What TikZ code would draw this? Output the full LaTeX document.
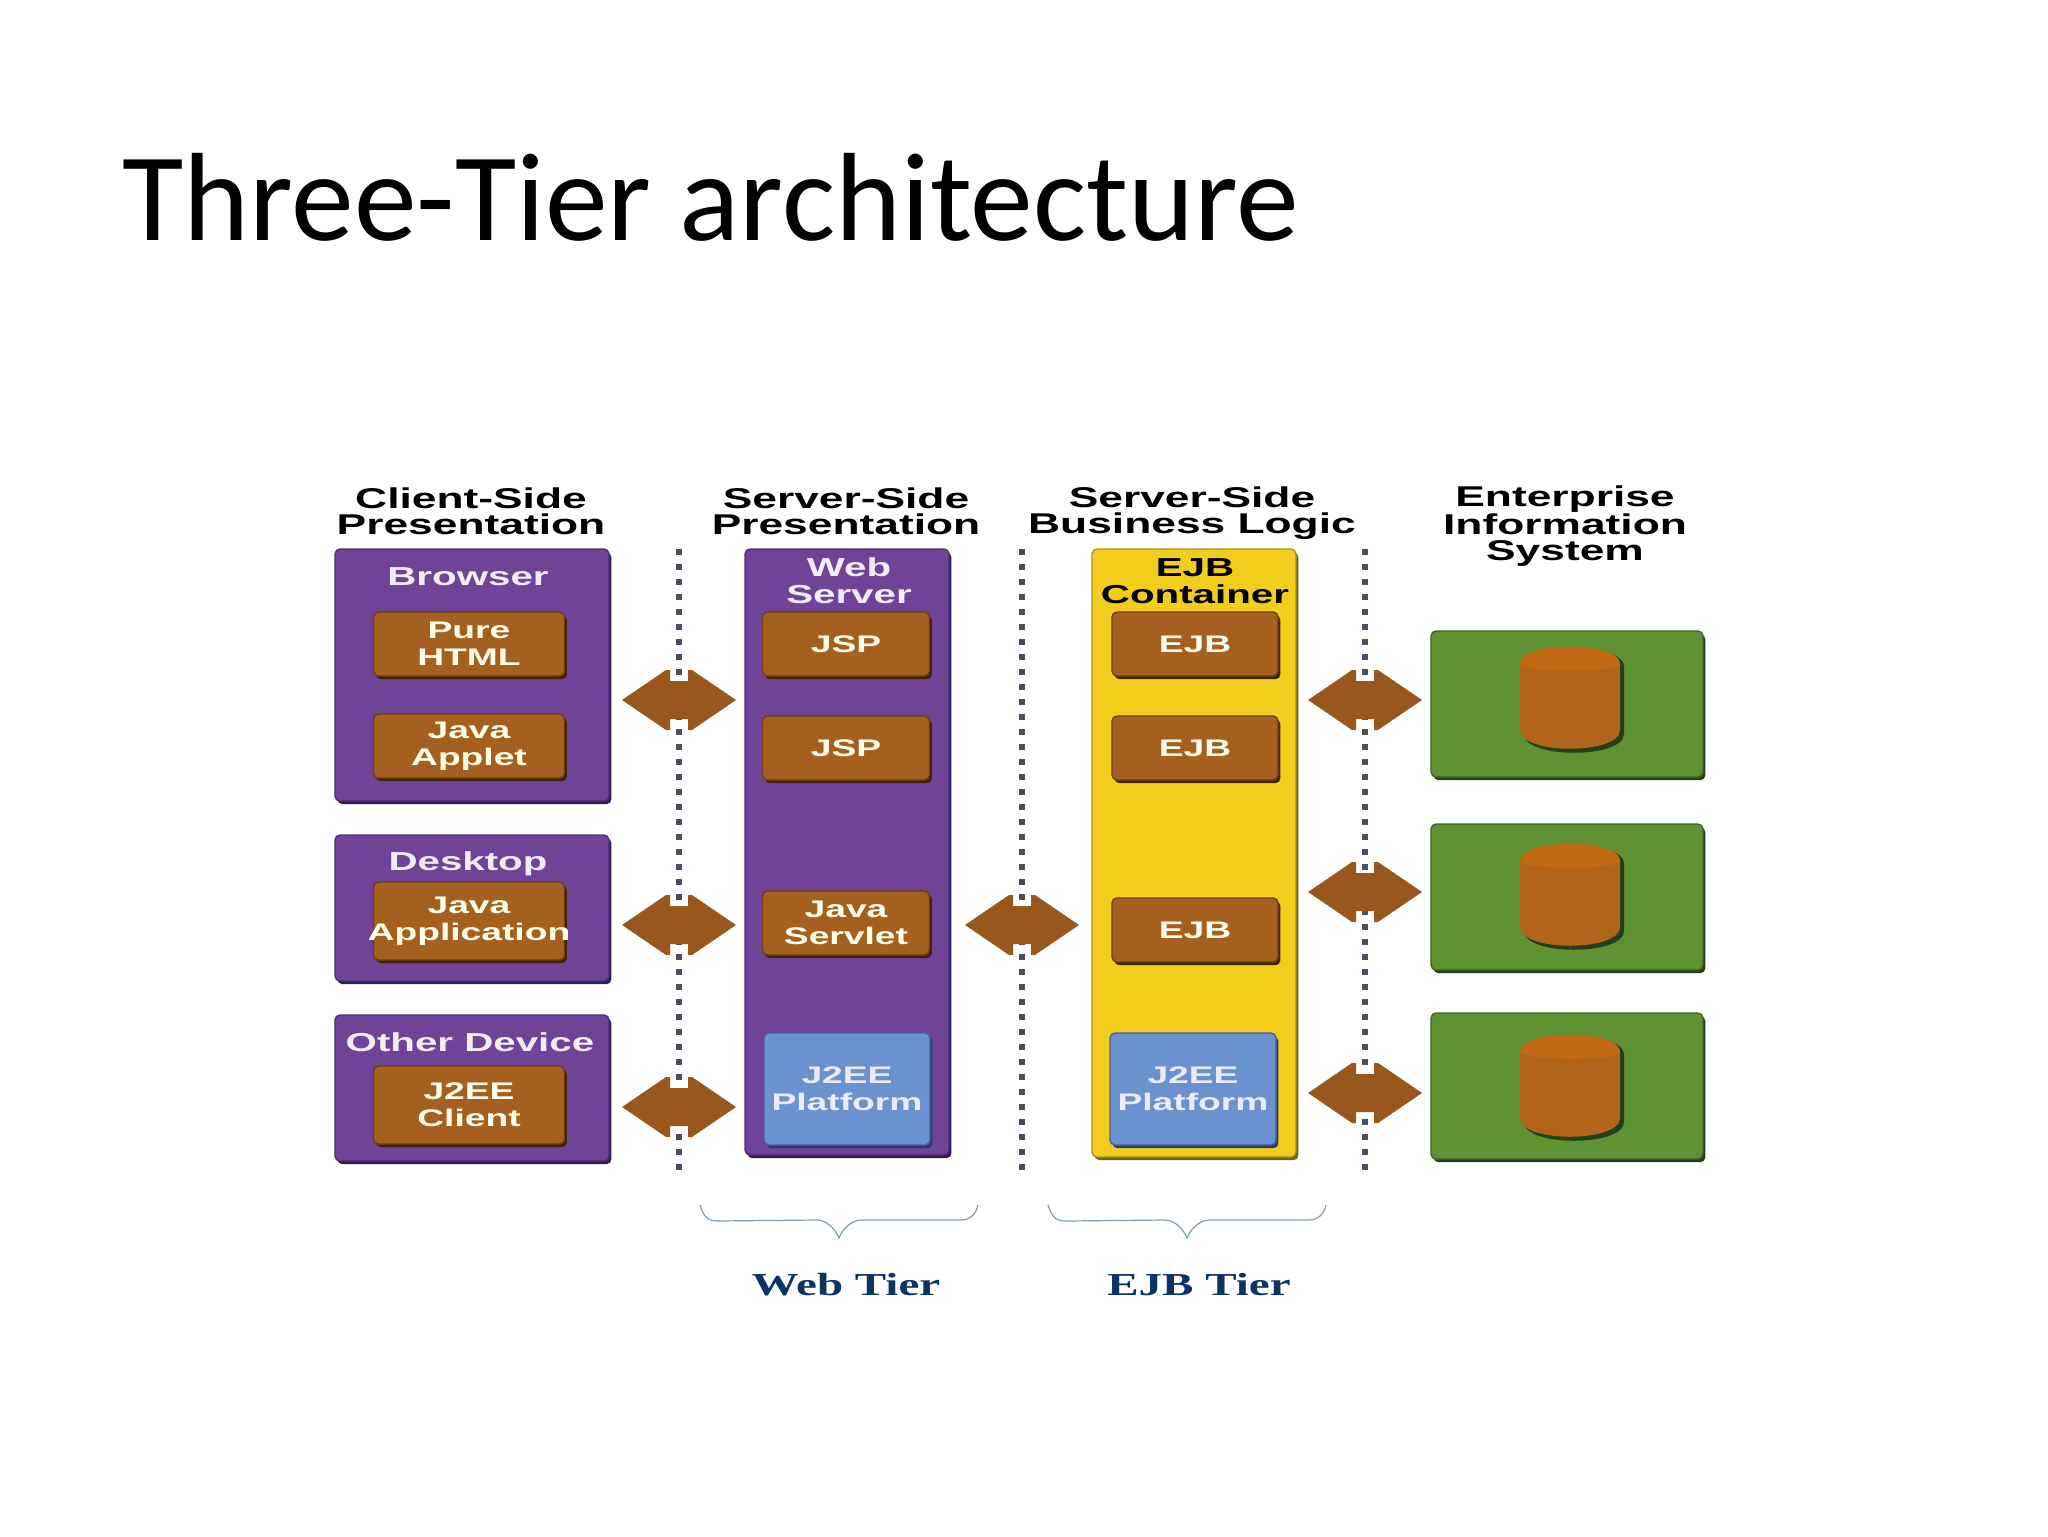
\documentclass[tikz,border=0pt]{standalone}
\usepackage{fontspec}
\usepackage{xcolor}
\usetikzlibrary{shadows}
\setmainfont{Liberation Sans}
\newfontfamily\titlefont{Carlito}
\newfontfamily\headfont[FakeStretch=1.55]{Liberation Sans}
\newfontfamily\widefont[FakeStretch=1.55]{Liberation Sans}
\newfontfamily\wideserif[FakeStretch=1.47]{Liberation Serif}
\definecolor{tierpurple}{HTML}{6F4396}
\definecolor{tierpurpledark}{HTML}{2F1C55}
\definecolor{tierbrown}{HTML}{A55F1F}
\definecolor{tierbrowndark}{HTML}{3F230C}
\definecolor{tierblue}{HTML}{6A92CF}
\definecolor{tierbluedark}{HTML}{2C3A66}
\definecolor{tiergreen}{HTML}{5F9232}
\definecolor{tiergreendark}{HTML}{22401A}
\definecolor{tieryellow}{HTML}{F3CD1B}
\definecolor{tieryellowdark}{HTML}{6B6420}
\definecolor{tiernavy}{HTML}{0B3366}
\definecolor{tierdot}{HTML}{4C4C60}
\definecolor{tierbrace}{HTML}{7F9DB0}
\tikzset{
  bevelbox/.style 2 args={rectangle,rounded corners=2.5pt,fill=#1,draw=#2!55!#1,line width=0.7pt,
    general shadow={fill=#2,shadow xshift=1.2pt,shadow yshift=-1.6pt},inner sep=0pt,align=center},
  heading/.style={font=\headfont\bfseries\fontsize{14.3}{13}\selectfont,align=center,inner sep=0pt,text=black},
  boxtitle/.style={font=\widefont\bfseries\fontsize{13}{13.5}\selectfont,align=center,inner sep=0pt},
  purplebox/.style={bevelbox={tierpurple}{tierpurpledark}},
  yellowbox/.style={bevelbox={tieryellow}{tieryellowdark}},
  greenbox/.style={bevelbox={tiergreen}{tiergreendark},minimum width=136pt,minimum height=73pt},
  brownbtn/.style={bevelbox={tierbrown}{tierbrowndark},text=white!92!yellow,
    font=\widefont\bfseries\fontsize{12}{13.5}\selectfont},
  clientbtn/.style={brownbtn,minimum width=95.5pt,minimum height=32pt},
  webbtn/.style={brownbtn,minimum width=83.5pt,minimum height=32pt},
  ejbbtn/.style={brownbtn,minimum width=83pt,minimum height=32pt},
  platform/.style={bevelbox={tierblue}{tierbluedark},text=white!92!blue,minimum width=83pt,minimum height=56pt,
    font=\widefont\bfseries\fontsize{12}{13.5}\selectfont},
  tierdots/.style={color=tierdot,line width=2.8pt,dash pattern=on 2.8pt off 4.7pt},
  tierarrow/.pic={
    \fill[tierbrown!92!black] (-57,0) -- (-13,-30) -- (-9,-30) -- (-9,-19) -- (9,-19) -- (9,-30) -- (13,-30) -- (57,0)
      -- (13,30) -- (9,30) -- (9,19) -- (-9,19) -- (-9,30) -- (-13,30) -- cycle;
  },
  tierbrace/.pic={
    \draw[color=tierbrace,line width=0.6pt] (-139,0) .. controls (-136,9) and (-133,16) .. (-122,16) -- (-22,15)
      .. controls (-12,15) and (-3,25) .. (0,33) .. controls (3,25) and (12,15) .. (22,15) -- (122,15)
      .. controls (131,15) and (137,9) .. (139,0);
  },
  datastore/.pic={
    \fill[tiergreendark] (-46,-33) .. controls (-46,-56) and (54,-56) .. (54,-33) -- (54,35)
      .. controls (54,60) and (-46,60) .. (-46,35) -- cycle;
    \fill[tierbrown!85!orange] (-50,-35) .. controls (-50,-58) and (50,-58) .. (50,-35) -- (50,31)
      .. controls (50,56) and (-50,56) .. (-50,31) -- cycle;
    \fill[tierbrown!68!orange] (-50,-35) .. controls (-50,-58) and (50,-58) .. (50,-35)
      .. controls (50,-26) and (-50,-26) .. (-50,-35) -- cycle;
  }
}
\begin{document}
\begin{tikzpicture}[x={0.5pt},y={-0.5pt}]
\useasboundingbox (0,0) rectangle (2048,1536);
\node[anchor=base west,inner sep=0pt,font=\titlefont\fontsize{62.8}{70}\selectfont] (title) at (122,240) {Three-Tier architecture};

% headings
\node[heading] (headclient) at (471,511) {Client-Side\\Presentation};
\node[heading] (headweb) at (846,511) {Server-Side\\Presentation};
\node[heading] (headejb) at (1192,513) {Server-Side\\Business Logic};
\node[heading] (headeis) at (1565,526) {Enterprise\\Information\\System};

% dotted tier borders
\foreach \x in {679,1022,1365} {
\draw[tierdots] (\x,549) -- (\x,1170);
}

% client side
\node[purplebox,minimum width=137pt,minimum height=126pt] (browser) at (472,675) {};
\node[purplebox,minimum width=137pt,minimum height=73pt] (desktop) at (472,908) {};
\node[purplebox,minimum width=137pt,minimum height=73pt] (otherdevice) at (472,1088) {};
\node[boxtitle,text=white!90!tierpurple] (browsertitle) at (468,577) {Browser};
\node[boxtitle,text=white!90!tierpurple] (desktoptitle) at (468,864) {Desktop};
\node[boxtitle,text=white!90!tierpurple] (othertitle) at (470,1042) {Other Device};
\node[clientbtn] (purehtml) at (469,644) {Pure\\HTML};
\node[clientbtn] (javaapplet) at (469,746) {Java\\Applet};
\node[clientbtn,minimum height=39pt] (javaapp) at (469,921) {Java\\\makebox[0pt]{Application}};
\node[clientbtn,minimum height=39pt] (j2eeclient) at (469,1105) {J2EE\\Client};

% web server
\node[purplebox,minimum width=102pt,minimum height=303pt] (webserver) at (847,852) {};
\node[boxtitle,text=white!90!tierpurple] (webtitle) at (849,581) {Web\\Server};
\node[webbtn] (jspa) at (846,644) {JSP};
\node[webbtn] (jspb) at (846,748) {JSP};
\node[webbtn] (servlet) at (846,923) {Java\\Servlet};
\node[platform] (webplatform) at (847,1089) {J2EE\\Platform};

% ejb container
\node[yellowbox,minimum width=102pt,minimum height=304pt] (ejbcontainer) at (1194,853) {};
\node[boxtitle,text=black] (ejbtitle) at (1195,581) {EJB\\Container};
\node[ejbbtn] (ejba) at (1195,644) {EJB};
\node[ejbbtn] (ejbb) at (1195,748) {EJB};
\node[ejbbtn] (ejbc) at (1195,930) {EJB};
\node[platform] (ejbplatform) at (1193,1089) {J2EE\\Platform};

% enterprise information system
\node[greenbox] (eisa) at (1567,704) {};
\node[greenbox] (eisb) at (1567,897) {};
\node[greenbox] (eisc) at (1567,1086) {};
\pic at (1570,699) {datastore};
\pic at (1570,896) {datastore};
\pic at (1570,1087) {datastore};

% arrows between tiers
\foreach \x/\y in {679/700,679/925,679/1107,1022/925,1365/700,1365/892,1365/1093} {
\pic at (\x,\y) {tierarrow};
}

% tier braces and names
\pic at (839,1205) {tierbrace};
\pic at (1187,1205) {tierbrace};
\node[inner sep=0pt,text=tiernavy,font=\wideserif\bfseries\fontsize{16}{16}\selectfont] (webtier) at (846,1285) {Web Tier};
\node[inner sep=0pt,text=tiernavy,font=\wideserif\bfseries\fontsize{16}{16}\selectfont] (ejbtier) at (1199,1285) {EJB Tier};
\end{tikzpicture}
\end{document}
